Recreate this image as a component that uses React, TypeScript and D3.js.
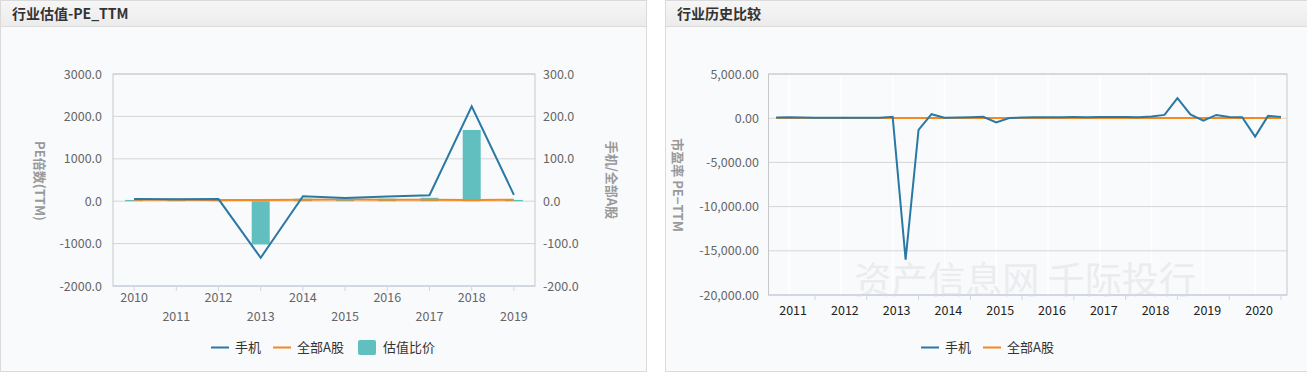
import React from 'react';
import * as d3 from 'd3';

// annual valuation data (left chart)
const years = ['2010', '2011', '2012', '2013', '2014', '2015', '2016', '2017', '2018', '2019'];
const phonePE = [54, 45, 50, -1334, 118, 78, 110, 141, 2235, 150];
const allAPE = [36, 32, 30, 30, 35, 38, 36, 34, 30, 34];
const ratio = [3, 3, 4, -102, 6, 4, 6, 8, 168, 3];
const leftTicks = [-2000, -1000, 0, 1000, 2000, 3000];
const rightTicks = [-200, -100, 0, 100, 200, 300];

// quarterly history (right chart), quarter ends 2011Q1 .. 2020Q4
const quarterEnds = [
  2011.25, 2011.5, 2011.75, 2012, 2012.25, 2012.5, 2012.75, 2013, 2013.25, 2013.5,
  2013.75, 2014, 2014.25, 2014.5, 2014.75, 2015, 2015.25, 2015.5, 2015.75, 2016,
  2016.25, 2016.5, 2016.75, 2017, 2017.25, 2017.5, 2017.75, 2018, 2018.25, 2018.5,
  2018.75, 2019, 2019.25, 2019.5, 2019.75, 2020, 2020.25, 2020.5, 2020.75, 2021,
];
const phoneHist = [
  80, 100, 70, 50, 40, 40, 45, 50, 60, 150,
  -15990, -1323, 450, 60, 80, 118, 150, -490, 30, 78,
  100, 110, 120, 125, 120, 130, 135, 141, 120, 200,
  370, 2260, 430, -270, 370, 130, 110, -2080, 260, 150,
];
const allAHist = [
  18, 17, 16, 15, 14, 14, 13, 13, 14, 15,
  14, 14, 16, 18, 22, 28, 35, 22, 20, 21,
  20, 19, 19, 19, 20, 21, 20, 18, 16, 14,
  13, 13, 15, 14, 14, 15, 16, 17, 19, 20,
];
const histYears = [2011, 2012, 2013, 2014, 2015, 2016, 2017, 2018, 2019, 2020];
const histTicks = [-20000, -15000, -10000, -5000, 0, 5000];

const FONT = "'Noto Sans CJK SC', 'Liberation Sans', sans-serif";
const BLUE = '#2a78a4';
const ORANGE = '#f5891f';
const TEAL = '#62bfbf';
const GRID = '#d6d6d6';
const TICK = '#ccd6eb';

// plain hyphen for negatives, like the original
const hy = (f: (n: number) => string) => (n: number) => f(n).replace('−', '-');

const Panel = ({ x, w, title }: { x: number; w: number; title: string }) => (
  <g>
    <rect x={x + 0.5} y={0.5} width={w - 1} height={371} fill="#f9fafc" stroke="#dadada" />
    <rect x={x + 1} y={1} width={w - 2} height={26} fill="url(#titleGrad)" />
    <line x1={x + 1} x2={x + w - 1} y1={26.5} y2={26.5} stroke="#dcdcdc" />
    <text x={x + 12} y={19} fontSize={14} fontWeight="bold" fill="#333">{title}</text>
  </g>
);

const LeftChart = () => {
  const left = 113, right = 535, top = 74, bottom = 286;
  const x = d3.scalePoint<string>().domain(years).range([left, right]).padding(0.5);
  const yL = d3.scaleLinear().domain([-2000, 3000]).range([bottom, top]);
  const yR = d3.scaleLinear().domain([-200, 300]).range([bottom, top]);
  const line = d3.line<number>().x((_, i) => x(years[i]) as number).y(d => yL(d));
  const fmt = hy(d3.format('.1f'));
  const barW = 18;

  return (
    <g>
      {leftTicks.map(t => (
        <line key={t} x1={left} x2={right} y1={yL(t)} y2={yL(t)} stroke={GRID} />
      ))}
      <rect x={left} y={top} width={right - left} height={bottom - top} fill="none" stroke="#c8c8c8" />
      <line x1={left} x2={right} y1={bottom} y2={bottom} stroke={TICK} />
      {years.map(yr => (
        <line key={yr} x1={x(yr)} x2={x(yr)} y1={bottom} y2={bottom + 5} stroke={TICK} />
      ))}
      {leftTicks.map(t => (
        <text key={t} x={102} y={yL(t) + 4.5} textAnchor="end" fontSize={12.5} fill="#666">{fmt(t)}</text>
      ))}
      {rightTicks.map(t => (
        <text key={t} x={543} y={yR(t) + 4.5} fontSize={12.5} fill="#666">{fmt(t)}</text>
      ))}
      {years.map((yr, i) => (
        <text key={yr} x={x(yr)} y={i % 2 === 0 ? 302 : 321} textAnchor="middle" fontSize={12.5} fill="#666">{yr}</text>
      ))}
      <text transform="translate(35,181) rotate(90)" textAnchor="middle" fontSize={13} fontWeight="bold" fill="#999">PE倍数(TTM)</text>
      <text transform="translate(607,180) rotate(90)" textAnchor="middle" fontSize={13} fontWeight="bold" fill="#999">手机/全部A股</text>
      {ratio.map((v, i) => (
        <rect key={i} x={(x(years[i]) as number) - barW / 2} width={barW}
          y={Math.min(yR(v), yR(0))} height={Math.abs(yR(v) - yR(0))} fill={TEAL} />
      ))}
      <path d={line(allAPE) || ''} fill="none" stroke={ORANGE} strokeWidth={2} />
      <path d={line(phonePE) || ''} fill="none" stroke={BLUE} strokeWidth={2} />
      {/* legend */}
      <line x1={211} x2={229} y1={347.5} y2={347.5} stroke={BLUE} strokeWidth={2} />
      <text x={235} y={352} fontSize={13} fill="#333">手机</text>
      <line x1={273} x2={291} y1={347.5} y2={347.5} stroke={ORANGE} strokeWidth={2} />
      <text x={297} y={352} fontSize={13} fill="#333">全部A股</text>
      <rect x={358} y={340} width={18} height={15} rx={2} fill={TEAL} />
      <text x={383} y={352} fontSize={13} fill="#333">估值比价</text>
    </g>
  );
};

const RightChart = () => {
  const left = 768.5, right = 1287, top = 74, bottom = 295;
  const x = d3.scaleLinear().domain([2011.102, 2021.116]).range([left, right]);
  const y = d3.scaleLinear().domain([-20000, 5000]).range([bottom, top]);
  const line = d3.line<number>().x((_, i) => x(quarterEnds[i])).y(d => y(d));
  const fmt = hy(d3.format(',.2f'));

  return (
    <g>
      {histYears.map(yr => (
        <line key={yr} x1={x(yr + 0.5)} x2={x(yr + 0.5)} y1={top} y2={bottom} stroke="#ffffff" strokeWidth={1.5} />
      ))}
      {histTicks.map(t => (
        <line key={t} x1={left} x2={right} y1={y(t)} y2={y(t)} stroke={GRID} />
      ))}
      <text x={1025} y={294} textAnchor="middle" fontSize={37} fill="#ebecee">资产信息网 千际投行</text>
      <rect x={left} y={top} width={right - left} height={bottom - top} fill="none" stroke="#c8c8c8" />
      <line x1={left} x2={right} y1={bottom} y2={bottom} stroke={TICK} />
      {histYears.map(yr => (
        <line key={yr} x1={x(yr + 1)} x2={x(yr + 1)} y1={bottom} y2={bottom + 5} stroke={TICK} />
      ))}
      {histTicks.map(t => (
        <text key={t} x={759} y={y(t) + 4.5} textAnchor="end" fontSize={12.5} fill="#666">{fmt(t)}</text>
      ))}
      {histYears.map(yr => (
        <text key={yr} x={x(yr + 0.5) + 4} y={315} textAnchor="middle" fontSize={12.5} fill="#222">{yr}</text>
      ))}
      <text transform="translate(673,185) rotate(90)" textAnchor="middle" fontSize={13} fontWeight="bold" fill="#999">市盈率 PE−TTM</text>
      <path d={line(allAHist) || ''} fill="none" stroke={ORANGE} strokeWidth={2} />
      <path d={line(phoneHist) || ''} fill="none" stroke={BLUE} strokeWidth={2} />
      {/* legend */}
      <line x1={921} x2={939} y1={347.5} y2={347.5} stroke={BLUE} strokeWidth={2} />
      <text x={945} y={352} fontSize={13} fill="#333">手机</text>
      <line x1={983} x2={1001} y1={347.5} y2={347.5} stroke={ORANGE} strokeWidth={2} />
      <text x={1007} y={352} fontSize={13} fill="#333">全部A股</text>
    </g>
  );
};

export default function App() {
  return (
    <svg width={1307} height={374} style={{ position: 'absolute', left: 0, top: 0, background: '#fff' }}
      fontFamily={FONT}>
      <defs>
        <linearGradient id="titleGrad" x1="0" y1="0" x2="0" y2="1">
          <stop offset="0" stopColor="#f6f6f7" />
          <stop offset="1" stopColor="#ebebec" />
        </linearGradient>
      </defs>
      <Panel x={0} w={647} title="行业估值-PE_TTM" />
      <Panel x={665} w={650} title="行业历史比较" />
      <LeftChart />
      <RightChart />
    </svg>
  );
}
